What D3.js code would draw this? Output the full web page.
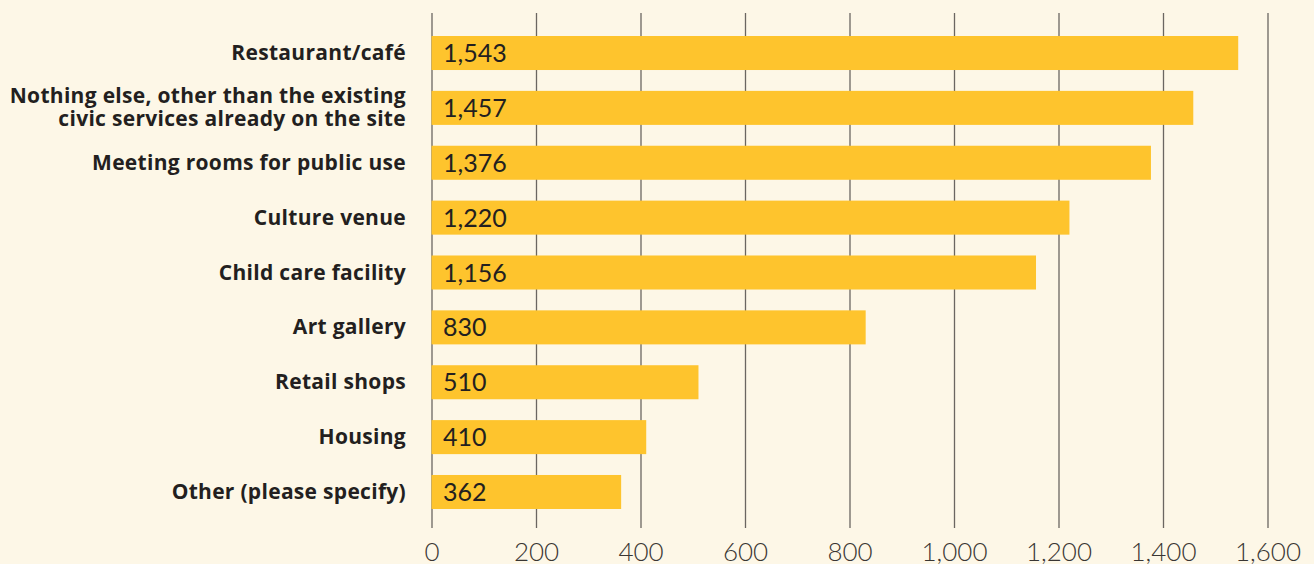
<!DOCTYPE html>
<html>
<head>
<meta charset="utf-8">
<script src="https://cdn.jsdelivr.net/npm/d3@7"></script>
<style>
  html, body { margin: 0; padding: 0; background: #fdf7e7; }
  svg { display: block; }
</style>
</head>
<body>
<div id="chart"></div>
<script>
// data
const categories = [
  "Restaurant/café",
  "Nothing else, other than the existing|civic services already on the site",
  "Meeting rooms for public use",
  "Culture venue",
  "Child care facility",
  "Art gallery",
  "Retail shops",
  "Housing",
  "Other (please specify)"
];
const values = [1543, 1457, 1376, 1220, 1156, 830, 510, 410, 362];
const tickValues = [0, 200, 400, 600, 800, 1000, 1200, 1400, 1600];

const width = 1314, height = 564;

const svg = d3.select("#chart").append("svg")
  .attr("width", width)
  .attr("height", height);

svg.append("rect").attr("width", width).attr("height", height).attr("fill", "#fdf7e7");

const x = d3.scaleLinear().domain([0, 1600]).range([432, 1268]);
const y = d3.scaleBand().domain(categories).range([36, 509]).paddingInner(0.38).paddingOuter(0);

// vertical grid lines
svg.append("g")
  .selectAll("line")
  .data(tickValues)
  .enter()
  .append("line")
  .attr("x1", d => x(d)).attr("x2", d => x(d))
  .attr("y1", 13).attr("y2", 528)
  .attr("stroke", "#6b6661")
  .attr("stroke-width", 1.3);

// tick labels
svg.append("g")
  .selectAll("text")
  .data(tickValues)
  .enter()
  .append("text")
  .attr("x", d => x(d))
  .attr("y", 561)
  .attr("text-anchor", "middle")
  .style("font-family", "Lato, 'Open Sans', sans-serif")
  .style("font-weight", 300)
  .style("font-size", "26px")
  .attr("fill", "#3a3633")
  .text(d => d3.format(",")(d));

// bars
svg.append("g")
  .selectAll("rect")
  .data(values)
  .enter()
  .append("rect")
  .attr("x", x(0) - 0.5)
  .attr("y", (d, i) => y(categories[i]))
  .attr("width", d => x(d) - x(0) + 0.5)
  .attr("height", y.bandwidth())
  .attr("fill", "#fec42d");

// value labels inside bars
svg.append("g")
  .selectAll("text")
  .data(values)
  .enter()
  .append("text")
  .attr("x", 443)
  .attr("y", (d, i) => y(categories[i]) + y.bandwidth() / 2 + 9)
  .style("font-family", "Lato, 'Open Sans', sans-serif")
  .style("font-weight", 400)
  .style("font-size", "25px")
  .attr("fill", "#231f20")
  .text(d => d3.format(",")(d));

// category labels
const labels = svg.append("g")
  .selectAll("text")
  .data(categories)
  .enter()
  .append("text")
  .attr("text-anchor", "end")
  .style("font-family", "'Open Sans', sans-serif")
  .style("font-weight", 700)
  .style("font-size", "21px")
  .style("letter-spacing", "0.3px")
  .attr("fill", "#231f20");

labels.each(function(d) {
  const lines = d.split("|");
  const cy = y(d) + y.bandwidth() / 2;
  const t = d3.select(this);
  lines.forEach((ln, j) => {
    t.append("tspan")
      .attr("x", 406)
      .attr("y", cy + 7 + (j - (lines.length - 1) / 2) * 23)
      .text(ln);
  });
});
</script>
</body>
</html>
